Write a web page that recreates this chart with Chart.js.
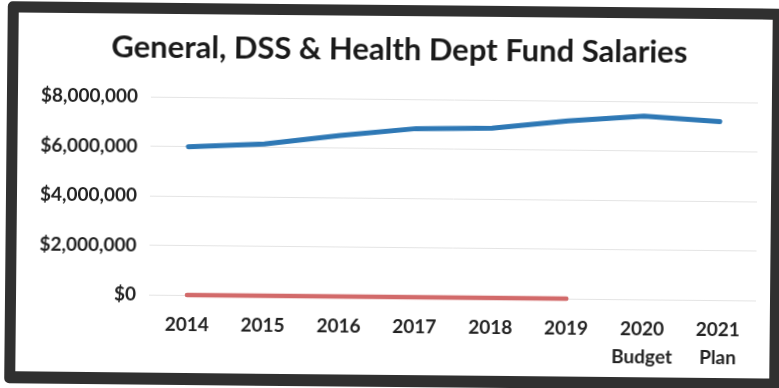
<!DOCTYPE html>
<html>
<head>
<meta charset="utf-8">
<script src="https://cdn.jsdelivr.net/npm/chart.js@4.4.1/dist/chart.umd.min.js"></script>
<style>
    html, body {
        margin: 0;
        padding: 0;
        background: #ffffff;
        width: 779px;
        height: 388px;
        overflow: hidden;
    }
    /* dark frame around the chart, sitting slightly askew */
    .frame {
        position: absolute;
        left: 6px;
        top: 5px;
        width: 776px;
        height: 382px;
        box-sizing: border-box;
        border: 11px solid #303030;
        border-bottom-width: 12px;
        border-radius: 5px;
        background: #ffffff;
        transform: rotate(0.55deg);
        transform-origin: 50% 50%;
    }
    #salaryChart {
        display: block;
    }
</style>
</head>
<body>
<div class="frame">
    <canvas id="salaryChart" width="754" height="359"></canvas>
</div>
<script>
// Fiscal years on the x axis (last two are projections)
const years = ['2014', '2015', '2016', '2017', '2018', '2019', ['2020', 'Budget'], ['2021', 'Plan']];

// Salary totals by fund
const salaryTotals = [6000000, 6140000, 6510000, 6820000, 6870000, 7190000, 7410000, 7220000];
const otherFund = [0, 0, 0, 0, 0, 0, null, null];

// Y axis range
const yMin = 0;
const yMax = 8000000;
const yStep = 2000000;

const labelFont = "'Lato', 'Open Sans', sans-serif";

const ctx = document.getElementById('salaryChart');

new Chart(ctx, {
    type: 'line',
    data: {
        labels: years,
        datasets: [{
            label: 'Salaries',
            data: salaryTotals,
            borderColor: '#2E78B5',
            borderWidth: 5,
            borderCapStyle: 'round',
            borderJoinStyle: 'round',
            pointRadius: 0,
            tension: 0,
            fill: false,
            clip: 8
        }, {
            label: 'Other',
            data: otherFund,
            borderColor: '#D26A6A',
            borderWidth: 4.5,
            borderCapStyle: 'round',
            pointRadius: 0,
            tension: 0,
            fill: false,
            clip: 8
        }]
    },
    options: {
        responsive: false,
        animation: false,
        layout: {
            // left padding keeps the title centred over the frame
            padding: { left: 22, right: 14, top: 0, bottom: 0 }
        },
        plugins: {
            legend: { display: false },
            tooltip: { enabled: false },
            title: {
                display: true,
                text: 'General, DSS & Health Dept Fund Salaries',
                color: '#1a1a1a',
                font: { family: labelFont, size: 31, weight: 'bold', lineHeight: 1.2 },
                padding: { top: 15, bottom: 31 }
            }
        },
        scales: {
            x: {
                offset: true,
                grid: { display: false, drawTicks: false },
                border: { display: false },
                ticks: {
                    color: '#222222',
                    padding: 16,
                    maxRotation: 0,
                    autoSkip: false,
                    font: { family: labelFont, size: 19, weight: 'bold', lineHeight: 1.47 }
                },
                afterFit: (axis) => { axis.height = 78; }
            },
            y: {
                min: yMin,
                max: yMax,
                grid: { color: '#e4e4e4', lineWidth: 1, drawTicks: false },
                border: { display: false },
                ticks: {
                    stepSize: yStep,
                    color: '#222222',
                    padding: 13,
                    font: { family: labelFont, size: 19, weight: 'bold' },
                    callback: (value) => '$' + value.toLocaleString('en-US')
                },
                afterFit: (axis) => { axis.width = 111; }
            }
        }
    }
});
</script>
</body>
</html>
